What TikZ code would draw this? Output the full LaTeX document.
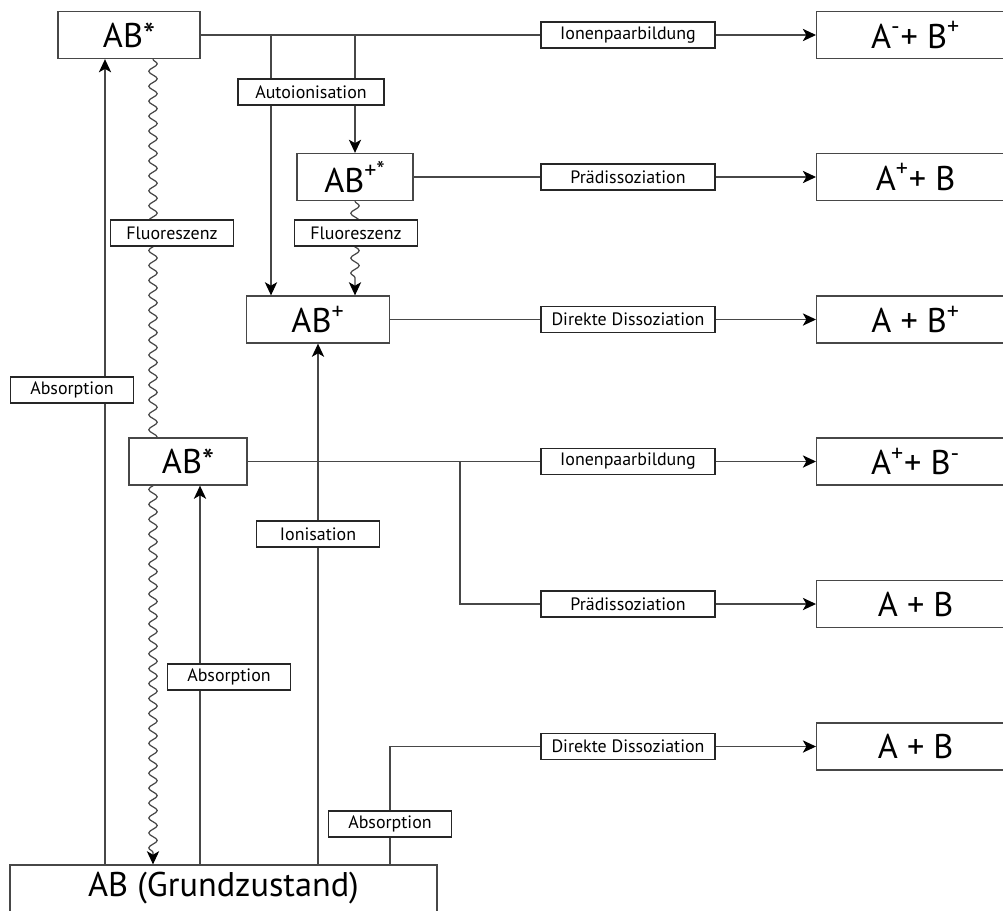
\documentclass[tikz,border=0pt]{standalone}
\usepackage{fontspec}
\setmainfont{PT Sans}
\usetikzlibrary{arrows.meta,decorations.pathmorphing,backgrounds}
\colorlet{lcol}{black!72}
\tikzstyle{state}=[draw=lcol, fill=white, line width=0.75pt, minimum height=0.94cm, inner sep=0pt, font=\fontsize{19.5}{22}\selectfont]
\tikzstyle{prod}=[state, minimum width=3.96cm, anchor=west]
\tikzstyle{proc}=[draw=black!85, fill=white, line width=0.7pt, minimum height=0.52cm, inner sep=1pt, font=\fontsize{10.2}{12}\selectfont]
\tikzstyle{rproc}=[proc, minimum width=3.48cm]
\tikzstyle{lproc}=[proc, minimum width=2.46cm]
\tikzstyle{edge}=[line width=0.7pt, lcol]
\tikzstyle{arr}=[edge, -{Stealth[length=7.5pt,width=7pt,inset=2pt]}, arrows={[black]}]
\tikzstyle{wave}=[arr, decorate, decoration={snake, amplitude=2.4pt, segment length=8.5pt, post length=6pt}]

\begin{document}
\begin{tikzpicture}[x=0.02cm, y=-0.02cm]
	\useasboundingbox (0,0) rectangle (1003,910);
	% zustaende
	\node[state, minimum width=2.84cm] (abT) at (129,35) {AB*};
	\node[state, minimum width=2.32cm] (abpS) at (355,177) {AB\textsuperscript{+*}};
	\node[state, minimum width=2.86cm] (abp) at (318,319.5) {AB\textsuperscript{+}};
	\node[state, minimum width=2.36cm] (abM) at (188,461.5) {AB*};
	\node[state, minimum width=8.54cm] (gnd) at (223.5,888.5) {AB (Grundzustand)};
	% produkte
	\node[prod] (p1) at (816,35) {A\textsuperscript{-}+ B\textsuperscript{+}};
	\node[prod] (p2) at (816,177) {A\textsuperscript{+}+ B};
	\node[prod] (p3) at (816,319.5) {A + B\textsuperscript{+}};
	\node[prod] (p4) at (816,461.5) {A\textsuperscript{+}+ B\textsuperscript{-}};
	\node[prod] (p5) at (816,604) {A + B};
	\node[prod] (p6) at (816,746.5) {A + B};
	% prozesse
	\node[rproc] (l1) at (628,35) {Ionenpaarbildung};
	\node[rproc] (l2) at (628,177) {Prädissoziation};
	\node[rproc] (l3) at (628,319.5) {Direkte Dissoziation};
	\node[rproc] (l4) at (628,461.5) {Ionenpaarbildung};
	\node[rproc] (l5) at (628,604) {Prädissoziation};
	\node[rproc] (l6) at (628,746.5) {Direkte Dissoziation};
	\node[proc, minimum width=2.92cm] (auto) at (311,92) {Autoionisation};
	\node[lproc] (fl1) at (172,233) {Fluoreszenz};
	\node[lproc] (fl2) at (356,233) {Fluoreszenz};
	\node[lproc] (ab1) at (72,390) {Absorption};
	\node[lproc] (ion) at (318,534) {Ionisation};
	\node[lproc] (ab2) at (229,677) {Absorption};
	\node[lproc] (ab3) at (390,824) {Absorption};
	\coordinate (k1) at (271,35);
	\coordinate (k2) at (355,35);
	\coordinate (k3) at (460,461.5);
	\coordinate (xa) at (105,0);
	\coordinate (xf) at (153,0);
	\coordinate (xm) at (200,0);
	\begin{pgfonlayer}{background}
		\draw[arr] (abT) -- (p1);
		\draw[arr] (k1) -- (k1 |- abp.north);
		\draw[arr] (k2) -- (abpS);
		\draw[arr] (abpS) -- (p2);
		\draw[wave] (abpS.south) -- (abpS.south |- abp.north);
		\draw[arr] (abp) -- (p3);
		\draw[arr] (abM) -- (p4);
		\draw[arr] (k3) |- (p5);
		\draw[arr] (gnd.north -| xa) -- (abT.south -| xa);
		\draw[wave] (abT.south -| xf) -- (gnd.north -| xf);
		\draw[arr] (gnd.north -| xm) -- (abM.south -| xm);
		\draw[arr] (gnd.north -| abp) -- (abp);
		\draw[arr] (gnd.north -| ab3) |- (p6);
	\end{pgfonlayer}
\end{tikzpicture}
\end{document}
